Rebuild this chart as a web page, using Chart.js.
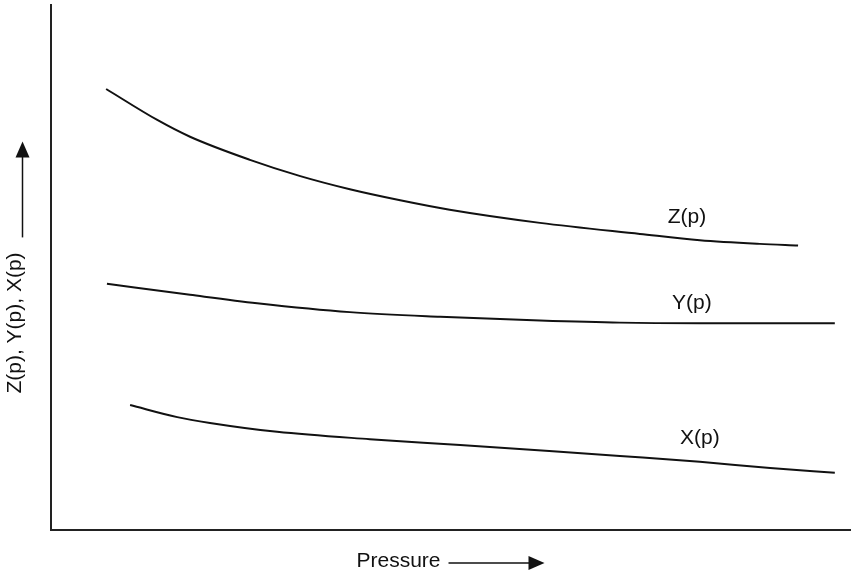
<!DOCTYPE html>
<html>
<head>
<meta charset="utf-8">
<script src="https://cdn.jsdelivr.net/npm/chart.js@4.4.1/dist/chart.umd.min.js"></script>
<style>
  html, body { margin: 0; padding: 0; background: #fff; }
  #c { display: block; }
</style>
</head>
<body>
<canvas id="c" width="852" height="575"></canvas>
<script>
// Curve samples (arbitrary units, axes 0..10)
var zPress = [0.69, 1.33, 1.74, 2.49, 3.12, 3.74, 4.37, 4.99, 6.12, 7.37, 8.12, 8.87, 9.35];
var zVals  = [8.40, 7.81, 7.49, 7.05, 6.74, 6.49, 6.28, 6.10, 5.85, 5.64, 5.52, 5.45, 5.42];

var yPress = [0.70, 1.74, 2.58, 3.74, 4.87, 6.12, 7.12, 8.12, 9.81];
var yVals  = [4.69, 4.48, 4.32, 4.15, 4.06, 3.99, 3.95, 3.94, 3.94];

var xPress = [0.99, 1.58, 1.99, 2.83, 3.99, 5.12, 6.37, 7.12, 8.12, 9.00, 9.81];
var xVals  = [2.38, 2.15, 2.04, 1.87, 1.73, 1.62, 1.49, 1.41, 1.30, 1.18, 1.09];

// curve names and where their labels sit (data units)
var curveNames = ["Z(p)", "Y(p)", "X(p)"];
var labelPress = [7.96, 8.02, 8.12];
var labelVals  = [5.96, 4.32, 1.75];

var xTitle = "Pressure";
var yTitle = "Z(p), Y(p), X(p)";

var INK = "#111";
var FONT = "21px 'Liberation Sans', Arial, sans-serif";

function pts(xs, ys) {
  return xs.map(function(x, i) { return { x: x, y: ys[i] }; });
}

function lineSet(label, data) {
  return {
    label: label,
    data: data,
    borderColor: INK,
    borderWidth: 2,
    pointRadius: 0,
    fill: false,
    tension: 0.4,
    cubicInterpolationMode: "monotone"
  };
}

// draws the curve names plus the two axis titles with their arrows
var decorations = {
  id: "decorations",
  afterDraw: function(chart) {
    var ctx = chart.ctx;
    var area = chart.chartArea;
    var sx = chart.scales.x, sy = chart.scales.y;
    ctx.save();
    ctx.fillStyle = INK;
    ctx.strokeStyle = INK;
    ctx.font = FONT;

    // curve labels
    ctx.textAlign = "center";
    ctx.textBaseline = "middle";
    for (var i = 0; i < curveNames.length; i++) {
      ctx.fillText(curveNames[i], sx.getPixelForValue(labelPress[i]), sy.getPixelForValue(labelVals[i]));
    }

    var arrowLen = 96, gap = 8;

    // x title + arrow, centred under the plot
    var tw = ctx.measureText(xTitle).width;
    var total = tw + gap + arrowLen;
    var x0 = (area.left + area.right) / 2 - total / 2;
    var base = area.bottom + 37;
    ctx.textAlign = "left";
    ctx.textBaseline = "alphabetic";
    ctx.fillText(xTitle, x0, base);
    var ay = base - 4;
    var a0 = x0 + tw + gap, a1 = a0 + arrowLen;
    ctx.lineWidth = 1.5;
    ctx.beginPath();
    ctx.moveTo(a0, ay);
    ctx.lineTo(a1 - 14, ay);
    ctx.stroke();
    ctx.beginPath();
    ctx.moveTo(a1, ay);
    ctx.lineTo(a1 - 16, ay - 7);
    ctx.lineTo(a1 - 16, ay + 7);
    ctx.closePath();
    ctx.fill();

    // y title + arrow, rotated, centred beside the plot
    var th = ctx.measureText(yTitle).width;
    var gapY = 15;
    var totalY = th + gapY + arrowLen;
    var midY = (area.top + area.bottom) / 2;
    ctx.save();
    ctx.translate(21, midY + totalY / 2);
    ctx.rotate(-Math.PI / 2);
    ctx.textAlign = "left";
    ctx.textBaseline = "alphabetic";
    ctx.fillText(yTitle, 0, 0);
    var b0 = th + gapY, b1 = b0 + arrowLen;
    var by = 1.5;
    ctx.beginPath();
    ctx.moveTo(b0, by);
    ctx.lineTo(b1 - 14, by);
    ctx.stroke();
    ctx.beginPath();
    ctx.moveTo(b1, by);
    ctx.lineTo(b1 - 16, by - 7);
    ctx.lineTo(b1 - 16, by + 7);
    ctx.closePath();
    ctx.fill();
    ctx.restore();

    ctx.restore();
  }
};

new Chart(document.getElementById("c").getContext("2d"), {
  type: "line",
  data: {
    datasets: [
      lineSet(curveNames[0], pts(zPress, zVals)),
      lineSet(curveNames[1], pts(yPress, yVals)),
      lineSet(curveNames[2], pts(xPress, xVals))
    ]
  },
  options: {
    responsive: false,
    animation: false,
    layout: { padding: { left: 51, top: 5, right: 2, bottom: 45 } },
    plugins: { legend: { display: false }, tooltip: { enabled: false } },
    scales: {
      x: {
        type: "linear",
        min: 0,
        max: 10,
        grid: { display: false, drawTicks: false },
        border: { display: true, color: "#222", width: 2 },
        ticks: { display: false },
        afterFit: function(s) { s.height = 0; }
      },
      y: {
        type: "linear",
        min: 0,
        max: 10,
        grid: { display: false, drawTicks: false },
        border: { display: true, color: "#222", width: 2 },
        ticks: { display: false },
        afterFit: function(s) { s.width = 0; }
      }
    }
  },
  plugins: [decorations]
});
</script>
</body>
</html>
